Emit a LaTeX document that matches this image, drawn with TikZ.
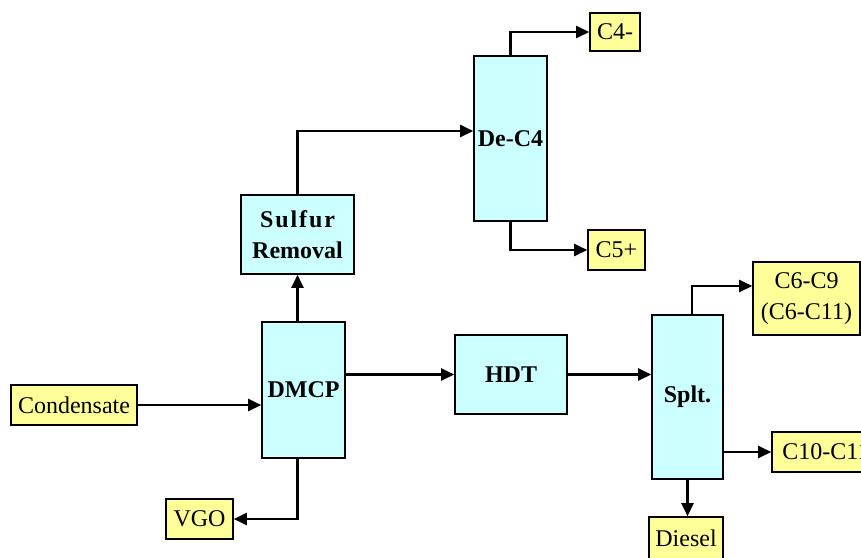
\documentclass[tikz,border=0pt]{standalone}
\usepackage{fontspec}
\setmainfont{Liberation Serif}
\usetikzlibrary{arrows.meta}
\definecolor{unitfill}{HTML}{CCFFFF}
\definecolor{prodfill}{HTML}{FFFF99}
\begin{document}
\begin{tikzpicture}[x=1pt,y=-1pt,
  unit/.style={draw=black, line width=1.6pt, fill=unitfill, inner sep=0pt, align=center,
    font=\fontsize{24}{31}\selectfont\bfseries},
  prod/.style={draw=black, line width=1.6pt, fill=prodfill, inner sep=0pt, align=center,
    font=\fontsize{24}{31}\selectfont},
  flow/.style={line width=2.4pt, -{Triangle[length=13pt,width=12pt]}}]
\useasboundingbox (0,0) rectangle (861,557);
\clip (0,0) rectangle (861,557);
% units
\node[unit, minimum width=73pt, minimum height=165pt] (dec4) at (510.5,138.5) {De-C4};
\node[unit, minimum width=113pt, minimum height=79pt] (sulfur) at (297.5,234.5) {{\addfontfeature{LetterSpace=8}Sulfur}\\Removal};
\node[unit, minimum width=83pt, minimum height=136pt] (dmcp) at (303.5,390) {DMCP};
\node[unit, minimum width=112pt, minimum height=79pt] (hdt) at (511,374.5) {HDT};
\node[unit, minimum width=71pt, minimum height=164pt] (splt) at (687.5,397) {Splt.};
% products
\node[prod, minimum width=50pt, minimum height=38pt] (c4) at (615,32) {C4-};
\node[prod, minimum width=57pt, minimum height=40pt] (c5) at (616.5,250) {C5+};
\node[prod, minimum width=126pt, minimum height=40pt] (cond) at (74,405) {Condensate};
\node[prod, minimum width=67pt, minimum height=40pt] (vgo) at (199.5,519) {VGO};
\node[prod, minimum width=107pt, minimum height=73pt] (c69) at (806.5,298.5) {C6-C9\\(C6-C11)};
\node[prod, minimum width=108pt, minimum height=40pt] (c1011) at (826,452) {C10-C11};
\node[prod, minimum width=74pt, minimum height=42pt] (diesel) at (686,538) {Diesel};
% connectors
\draw[flow] (sulfur.north) |- ([yshift=7.5pt]dec4.west);
\draw[flow] (dec4.north) |- (c4.west);
\draw[flow] (dec4.south) |- (c5.west);
\draw[flow] (dmcp.north -| sulfur.south) -- (sulfur.south);
\draw[flow] (cond.east) -- (cond.east -| dmcp.west);
\draw[flow] (dmcp.south -| sulfur.south) |- (vgo.east);
\draw[flow] (dmcp.east |- hdt.west) -- (hdt.west);
\draw[flow] (hdt.east) -- (hdt.east -| splt.west);
\draw[flow] ([xshift=4.5pt]splt.north) |- ([yshift=12.5pt]c69.west);
\draw[flow] (splt.east |- c1011.west) -- (c1011.west);
\draw[flow] (splt.south) -- (splt.south |- diesel.north);
\end{tikzpicture}
\end{document}
